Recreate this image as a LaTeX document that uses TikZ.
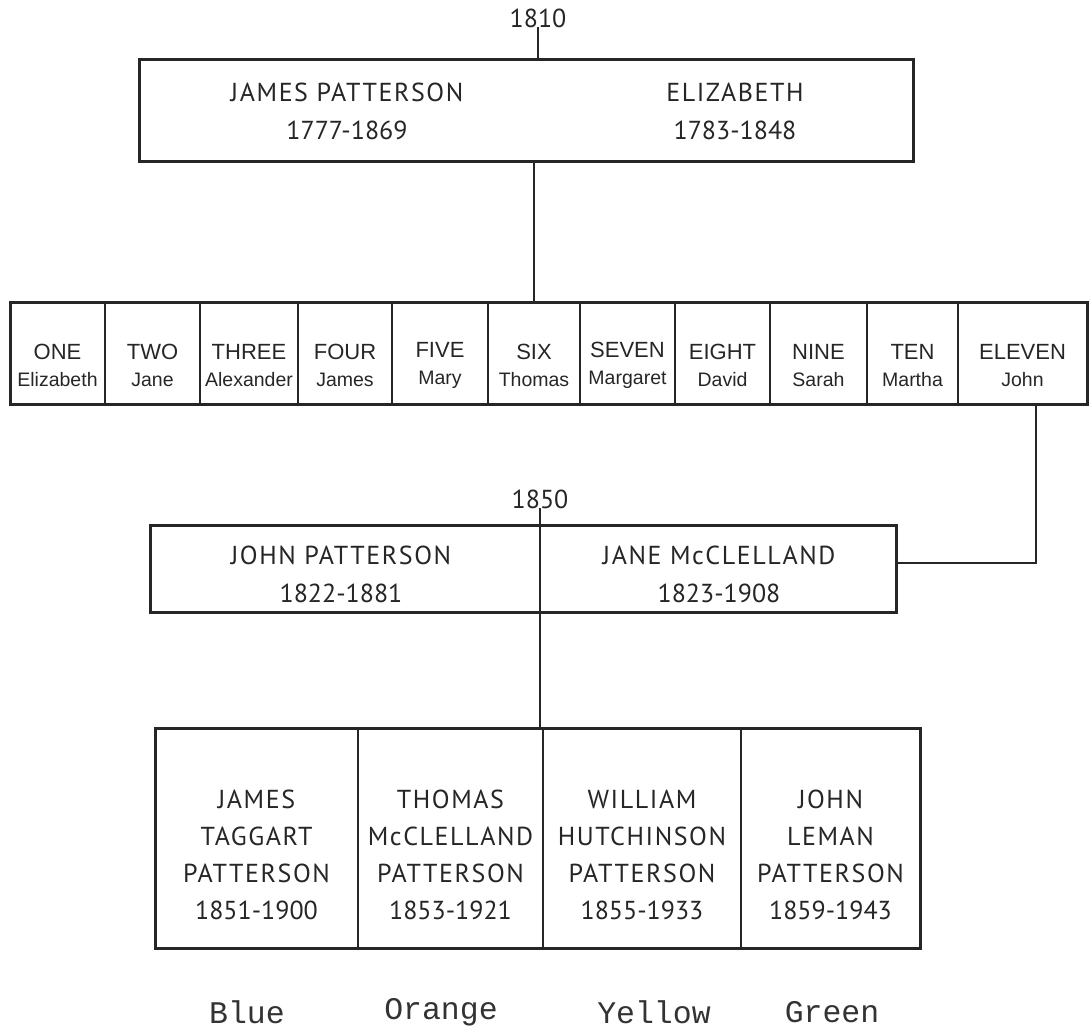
\documentclass[tikz,border=0pt]{standalone}
\usepackage{fontspec}
\newfontfamily\gillfont[LetterSpace=6]{PT Sans}
\newfontfamily\gilldates{PT Sans}
\newfontfamily\kidfont{Liberation Sans}
\newfontfamily\typefont{Liberation Mono}
\begin{document}
\begin{tikzpicture}[x=1pt,y=-1pt,
  famline/.style={draw=black!85,line width=2pt},
  boxline/.style={draw=black!85,line width=3pt},
  cell/.style={draw=black!85,line width=2pt,inner sep=0pt,outer sep=0pt},
  gilltxt/.style={inner sep=0pt,outer sep=0pt,align=center,text=black!85,font=\gillfont\fontsize{26}{38}\selectfont},
  kidtxt/.style={inner sep=0pt,outer sep=0pt,align=center,text=black!85,font=\kidfont\fontsize{22}{27}\selectfont},
  colourtxt/.style={inner sep=0pt,outer sep=0pt,text=black!80,font=\typefont\fontsize{31.5}{36}\selectfont}]
\path[use as bounding box] (0,0) rectangle (1092,1032);
% first generation
\node[gilltxt,font=\gilldates\fontsize{26}{30}\selectfont] (y1810) at (538,18) {1810};
\node[cell,line width=3pt,minimum width=774pt,minimum height=102pt] (parents) at (526,111) {};
\node[gilltxt] (james) at (347,111) {JAMES PATTERSON\\{\gilldates 1777-1869}};
\node[gilltxt] (elizabeth) at (735,111) {ELIZABETH\\{\gilldates 1783-1848}};
\draw[famline] (y1810.south) -- (y1810.south |- parents.north);
% the eleven children
\foreach \l/\r/\num/\who [count=\i] in {10/105/ONE/Elizabeth,105/200/TWO/Jane,200/298/THREE/Alexander,
    298/392/FOUR/James,392/488/FIVE/Mary,488/580/SIX/Thomas,580/675/SEVEN/Margaret,
    675/770/EIGHT/David,770/867/NINE/Sarah,867/958/TEN/Martha,958/1087/ELEVEN/John}{
  \node[cell,minimum width={(\r-\l)*1pt},minimum height=101pt] (kid\i) at ({(\l+\r)/2},353.5) {};
  \node[kidtxt] (kidname\i) at ([yshift=-12pt]kid\i.center)
    {\num\\{\fontsize{19.5}{27}\selectfont\who}};
}
\draw[boxline] (kid1.north west) rectangle (kid11.south east);
\draw[famline] (parents.south -| kid6.north) -- (kid6.north);
% John and Jane
\node[gilltxt,font=\gilldates\fontsize{26}{30}\selectfont] (y1850) at (540,499) {1850};
\node[cell,line width=3pt,minimum width=746pt,minimum height=87pt] (couple) at (523,568.5) {};
\node[gilltxt] (john) at (341,574) {JOHN PATTERSON\\{\gilldates 1822-1881}};
\node[gilltxt] (jane) at (719,574) {JANE McCLELLAND\\{\gilldates 1823-1908}};
\draw[famline] ([xshift=13pt]kid11.south) |- ([yshift=5.5pt]couple.east);
% their four sons
\foreach \l/\r/\who/\born [count=\i] in {155/358/{JAMES\\TAGGART}/1851-1900,
    358/543/{THOMAS\\McCLELLAND}/1853-1921,
    543/741/{WILLIAM\\HUTCHINSON}/1855-1933,
    741/920/{JOHN\\LEMAN}/1859-1943}{
  \node[cell,minimum width={(\r-\l)*1pt},minimum height=220pt] (son\i) at ({(\l+\r)/2},838) {};
  \node[gilltxt,font=\gillfont\fontsize{26}{37}\selectfont] (sonname\i) at ([yshift=-17pt]son\i.center)
    {\who\\PATTERSON\\{\gilldates\born}};
}
\draw[boxline] (son1.north west) rectangle (son4.south east);
\draw[famline] (y1850.south) -- (y1850.south |- son3.north);
% colours
\node[colourtxt] (blue) at (247,1012) {Blue};
\node[colourtxt] (orange) at (441,1012) {Orange};
\node[colourtxt] (yellow) at (654,1012) {Yellow};
\node[colourtxt] (green) at (832,1012) {Green};
\end{tikzpicture}
\end{document}
